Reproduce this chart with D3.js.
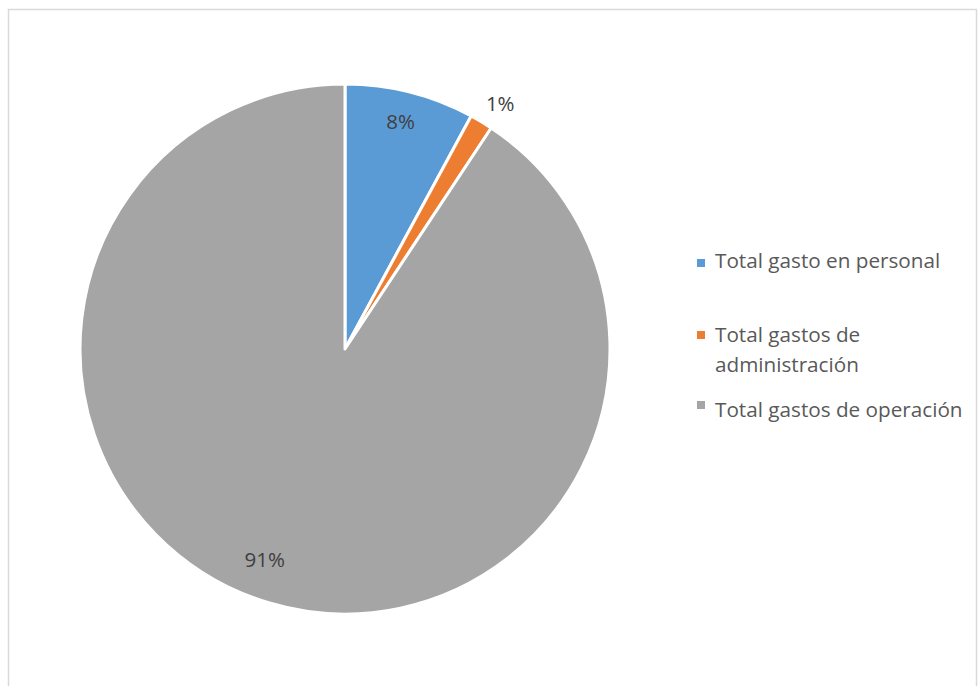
<!DOCTYPE html>
<html>
<head>
<meta charset="utf-8">
<script src="https://cdn.jsdelivr.net/npm/d3@7/dist/d3.min.js"></script>
<style>
html,body{margin:0;padding:0;background:#fff;}
svg{display:block;}
</style>
</head>
<body>
<svg id="chart" width="978" height="686"></svg>
<script>
const categories = ["Total gasto en personal", "Total gastos de administración", "Total gastos de operación"];
const values = [7.9, 1.4, 90.7];
const labels = ["8%", "1%", "91%"];
const colors = ["#5b9bd5", "#ed7d31", "#a5a5a5"];
const legendLines = [["Total gasto en personal"], ["Total gastos de", "administración"], ["Total gastos de operación"]];

const svg = d3.select("#chart");
const font = "'Open Sans', 'Noto Sans', sans-serif";

svg.append("rect").attr("x", 8.5).attr("y", 9.5).attr("width", 968).attr("height", 700)
  .attr("fill", "#fff").attr("stroke", "#d9d9d9").attr("stroke-width", 1.5);

const cx = 345, cy = 349, R = 265;
const g = svg.append("g").attr("transform", `translate(${cx},${cy})`);
const pie = d3.pie().sort(null).value(d => d);
const arcs = pie(values);
const arc = d3.arc().innerRadius(0).outerRadius(R);

g.selectAll("path").data(arcs).join("path")
  .attr("d", arc)
  .attr("fill", (d, i) => colors[i])
  .attr("stroke", "#fff").attr("stroke-width", 3).attr("stroke-linejoin", "round");

// label placement nudges (layout only)
const nudge = [[-1, -4], [5, 5], [-14, -9]];
arcs.forEach((d, i) => {
  const mid = (d.startAngle + d.endAngle) / 2;
  const r = values[i] < 5 ? 292 : 230;
  const x = Math.sin(mid) * r + nudge[i][0], y = -Math.cos(mid) * r + nudge[i][1];
  g.append("text").attr("x", x).attr("y", y).attr("dy", "0.35em")
    .attr("text-anchor", "middle")
    .attr("font-family", font).attr("font-size", 20.5)
    .attr("fill", "#404040").text(labels[i]);
});

const markY = [263, 335, 405];
const baseY = [268, 342, 417];
const leg = svg.append("g");
legendLines.forEach((lines, i) => {
  leg.append("rect").attr("x", 697).attr("y", markY[i] - 4).attr("width", 8).attr("height", 8)
    .attr("fill", colors[i]);
  lines.forEach((t, j) => {
    leg.append("text").attr("x", 715).attr("y", baseY[i] + j * 30)
      .attr("font-family", font).attr("font-size", 20.7).attr("fill", "#595959").text(t);
  });
});
</script>
</body>
</html>
